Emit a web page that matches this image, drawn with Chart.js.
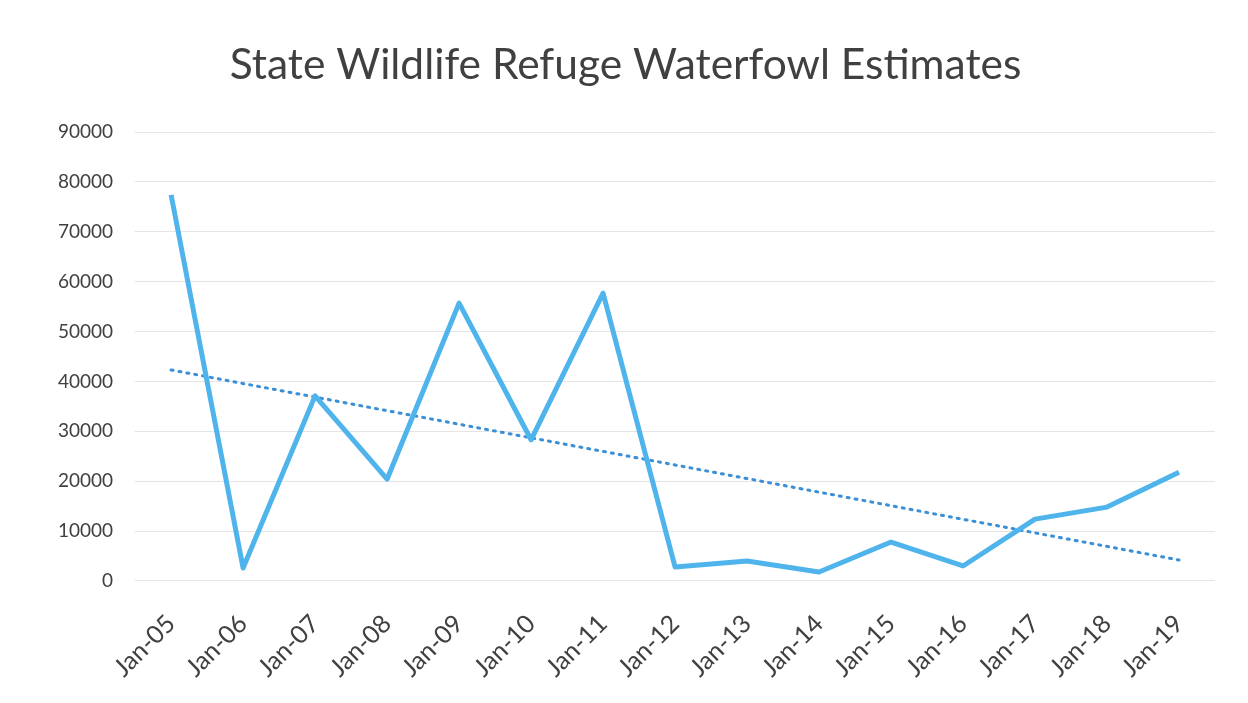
<!DOCTYPE html>
<html>
<head>
<meta charset="utf-8">
<script src="https://cdn.jsdelivr.net/npm/chart.js@4/dist/chart.umd.min.js"></script>
<style>
  html, body { margin: 0; padding: 0; background: #ffffff; }
  #wrap { width: 1248px; height: 703px; position: relative; }
</style>
</head>
<body>
<div id="wrap"><canvas id="c" width="1248" height="703"></canvas></div>
<script>
const categories = ['Jan-05','Jan-06','Jan-07','Jan-08','Jan-09','Jan-10','Jan-11','Jan-12','Jan-13','Jan-14','Jan-15','Jan-16','Jan-17','Jan-18','Jan-19'];
const waterfowl = [77400, 2600, 37100, 20400, 55700, 28300, 57700, 2800, 4000, 1800, 7800, 3000, 12400, 14800, 21800];
// trendline read at its two ends
const trend = [42300, null, null, null, null, null, null, null, null, null, null, null, null, null, 4200];
const yTicks = { min: 0, max: 90000, step: 10000 };

new Chart(document.getElementById('c'), {
  type: 'line',
  data: {
    labels: categories,
    datasets: [
      {
        label: 'Waterfowl',
        data: waterfowl,
        borderColor: '#4fb4ec',
        borderWidth: 5,
        pointRadius: 0,
        tension: 0,
        borderJoinStyle: 'round'
      },
      {
        label: 'Trend',
        data: trend,
        borderColor: '#3a8fd6',
        borderWidth: 3,
        borderDash: [2, 6],
        borderCapStyle: 'round',
        pointRadius: 0,
        spanGaps: true
      }
    ]
  },
  options: {
    responsive: false,
    animation: false,
    layout: { padding: { left: 36, right: 33, top: 40, bottom: 0 } },
    plugins: {
      legend: { display: false },
      tooltip: { enabled: false },
      title: {
        display: true,
        text: 'State Wildlife Refuge Waterfowl Estimates',
        color: '#404040',
        font: { family: 'Lato', size: 42.5, weight: 'normal' },
        padding: { top: 0, bottom: 41 }
      }
    },
    scales: {
      x: {
        offset: true,
        grid: { display: false },
        border: { display: false },
        ticks: {
          color: '#404040',
          font: { family: 'Lato', size: 25 },
          minRotation: 45,
          maxRotation: 45,
          padding: 20
        }
      },
      y: {
        min: yTicks.min,
        max: yTicks.max,
        border: { display: false },
        grid: { color: '#e4e4e4', lineWidth: 1, tickLength: 0, drawTicks: false },
        ticks: {
          stepSize: yTicks.step,
          color: '#404040',
          font: { family: 'Lato', size: 19 },
          padding: 22,
          callback: (v) => String(v)
        }
      }
    }
  }
});
</script>
</body>
</html>
